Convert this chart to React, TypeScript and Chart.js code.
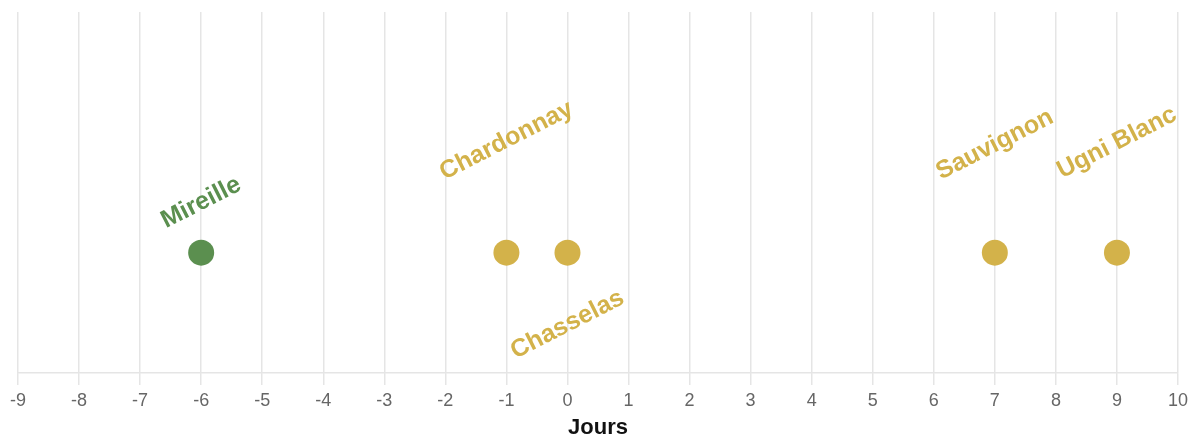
import React, { useEffect, useRef } from 'react';
import { Chart, registerables } from 'chart.js';

Chart.register(...registerables);

// ---- data ----
const cepages: string[] = ['Mireille', 'Chardonnay', 'Chasselas', 'Sauvignon', 'Ugni Blanc'];
const jours: number[] = [-6, -1, 0, 7, 9];
const niveaux: number[] = [0, 0, 0, 0, 0];
const types: string[] = ['rouge', 'blanc', 'blanc', 'blanc', 'blanc'];
const xMin = -9;
const xMax = 10;
const axisTitle = 'Jours';

// ---- styles ----
const TYPE_COLORS: Record<string, string> = { rouge: '#5b8f4f', blanc: '#d3b24a' };
const LABEL_SHIFT_Y: number[] = [-50, -112, 72, -108, -110];
const LABEL_ANGLE = -27;
const FONT = '"Liberation Sans", Arial, Helvetica, sans-serif';

const pointColors = types.map((t) => TYPE_COLORS[t]);

const labelPlugin = {
  id: 'cepageLabels',
  afterDatasetsDraw(chart: any) {
    const ctx = chart.ctx;
    const meta = chart.getDatasetMeta(0);
    meta.data.forEach((pt: any, i: number) => {
      ctx.save();
      ctx.translate(pt.x, pt.y + LABEL_SHIFT_Y[i]);
      ctx.rotate((LABEL_ANGLE * Math.PI) / 180);
      ctx.font = `bold 25px ${FONT}`;
      ctx.fillStyle = pointColors[i];
      ctx.textAlign = 'center';
      ctx.textBaseline = 'middle';
      ctx.fillText(cepages[i], 0, 0);
      ctx.restore();
    });
  },
};

export default function App() {
  const ref = useRef<HTMLCanvasElement | null>(null);

  useEffect(() => {
    if (!ref.current) return;
    Chart.defaults.font.family = FONT;
    const chart = new Chart(ref.current, {
      type: 'scatter',
      data: {
        datasets: [
          {
            label: 'Cépages',
            data: jours.map((x, i) => ({ x, y: niveaux[i] })),
            backgroundColor: pointColors,
            borderColor: pointColors,
            borderWidth: 0,
            pointRadius: 13,
            pointHoverRadius: 13,
          },
        ],
      },
      options: {
        responsive: false,
        animation: false,
        layout: { autoPadding: false, padding: { left: 0, right: 0, top: 4, bottom: 0 } },
        plugins: {
          legend: { display: false },
          tooltip: { enabled: false },
        },
        scales: {
          x: {
            type: 'linear',
            min: xMin,
            max: xMax,
            ticks: {
              stepSize: 1,
              color: '#666',
              font: { size: 18 },
              padding: 5,
            },
            grid: {
              color: 'rgba(0,0,0,0.1)',
              lineWidth: 1.5,
              tickLength: 12,
            },
            border: { color: 'rgba(0,0,0,0.1)', width: 1.5 },
            title: {
              display: true,
              text: axisTitle,
              color: '#111',
              font: { size: 22, weight: 'bold' },
              padding: { top: -2, bottom: 4 },
            },
          },
          y: {
            display: false,
            min: -1,
            max: 2,
          },
        },
      },
      plugins: [labelPlugin],
    });
    return () => chart.destroy();
  }, []);

  return (
    <div style={{ position: 'fixed', left: 5, top: 8, width: 1188, height: 428, overflow: 'hidden' }}>
      <canvas ref={ref} width={1188} height={437} style={{ width: 1188, height: 437, display: 'block' }} />
    </div>
  );
}
